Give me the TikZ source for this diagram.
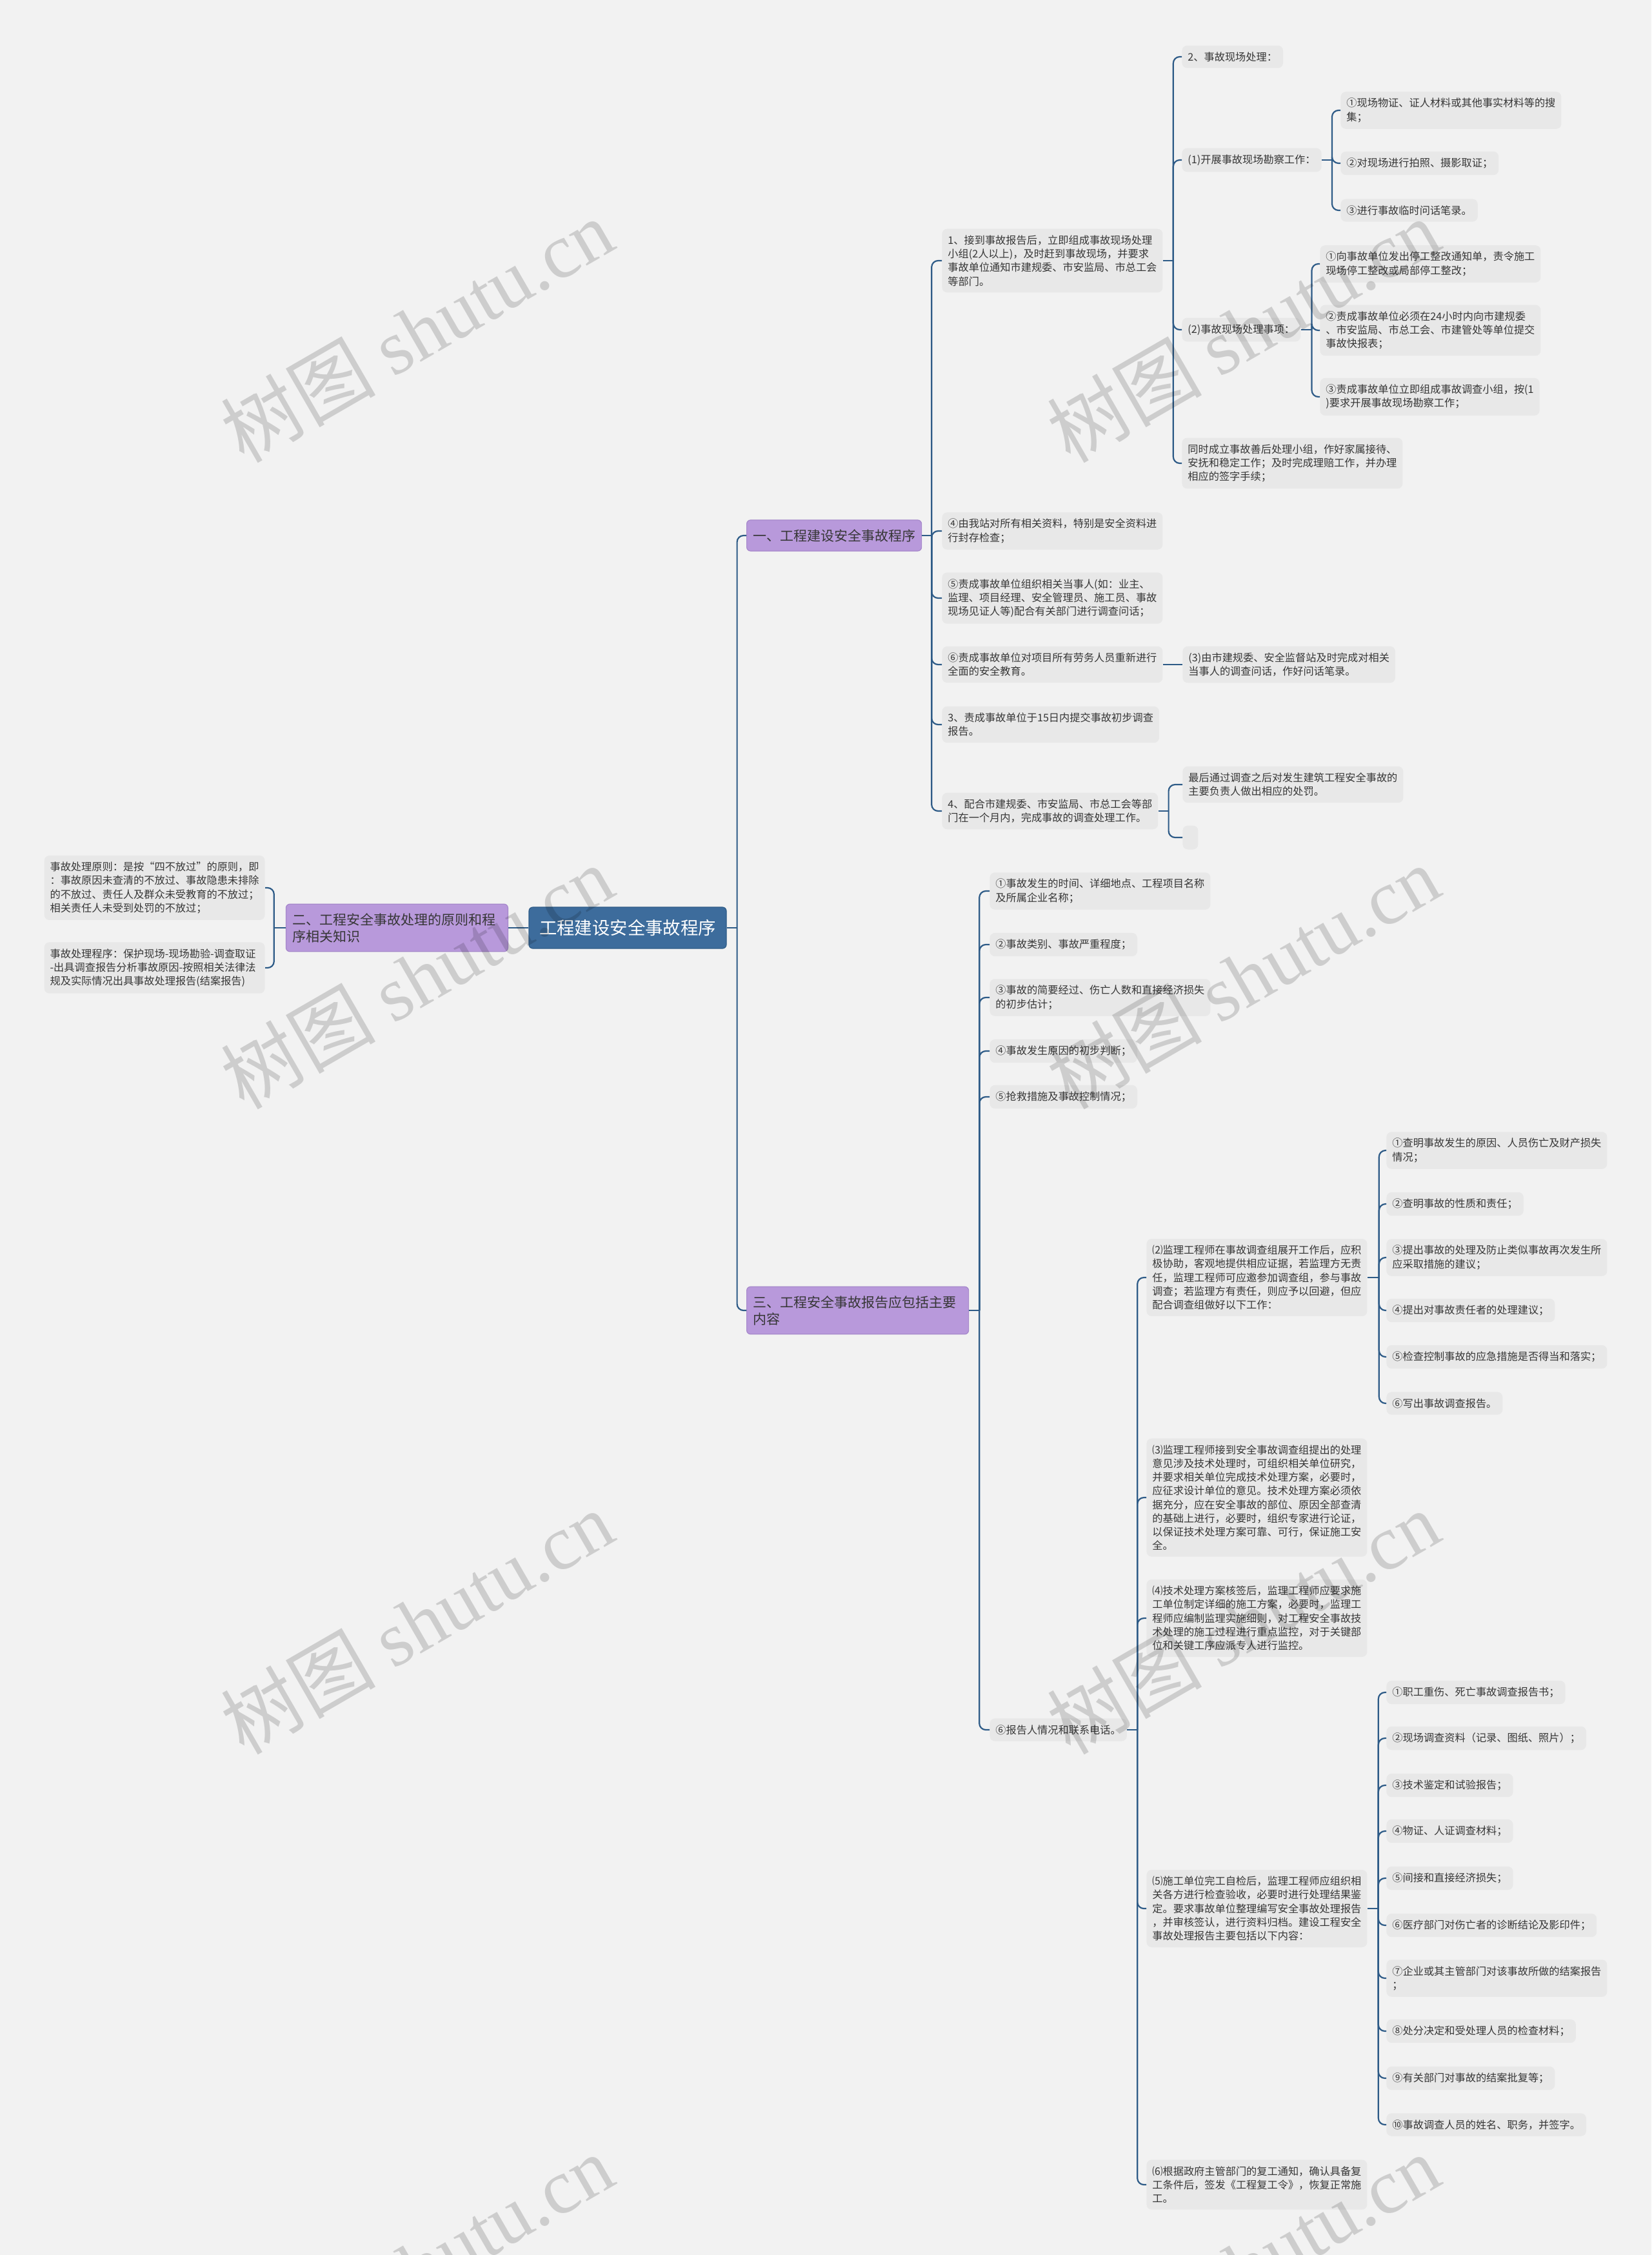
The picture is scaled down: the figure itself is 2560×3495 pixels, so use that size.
\documentclass[tikz,border=0pt]{standalone}
\usepackage{fontspec}
\setmainfont{Noto Sans CJK SC}
\newfontfamily\wmlatin{Liberation Serif}
\definecolor{bgcol}{HTML}{F2F2F2}
\definecolor{leafcol}{HTML}{E8E8E8}
\definecolor{linecol}{HTML}{2E5B87}
\definecolor{rootcol}{HTML}{3D6C9C}
\definecolor{rootline}{HTML}{2F5C88}
\definecolor{branchcol}{HTML}{B899DB}
\definecolor{branchline}{HTML}{A688CB}
\definecolor{txtcol}{HTML}{363636}

\begin{document}
\begin{tikzpicture}[x=0.5pt, y=-0.5pt,
  link/.style={draw=linecol, line width=1.1pt, rounded corners=5pt},
  rootbox/.style={fill=rootcol, draw=rootline, line width=0.6pt, rounded corners=3pt, text=white,
    font=\fontsize{13.7}{16}\selectfont, minimum width=153pt, minimum height=32pt, inner sep=0pt},
  branch/.style={fill=branchcol, draw=branchline, line width=0.6pt, rounded corners=3pt, text=txtcol,
    font=\fontsize{10.5}{13}\selectfont, align=left, inner xsep=5pt, inner ysep=7pt},
  leaf/.style={anchor=west, fill=leafcol, rounded corners=4pt, text=txtcol,
    font=\fontsize{8.1}{10.6}\selectfont, align=left, inner xsep=4.5pt, inner ysep=5pt},
  watermark/.style={rotate=30, text=black, opacity=0.15, font=\fontsize{60}{60}\selectfont}]

\useasboundingbox[fill=bgcol] (0,0) rectangle (2560,3495);

\node[rootbox] (root) at (973,1438) {工程建设安全事故程序};
\node[branch, anchor=west, minimum height=24pt, inner xsep=4.75pt] (b1) at (1157,830) {一、工程建设安全事故程序};
\node[branch, anchor=east, text width=162pt] (b2) at (788,1438) {二、工程安全事故处理的原则和程\\序相关知识};
\node[branch, anchor=west, text width=162pt] (b3) at (1157,2031) {三、工程安全事故报告应包括主要\\内容};

\node[leaf, anchor=east] (b2l1) at (411,1376) {事故处理原则：是按“四不放过”的原则，即\\：事故原因未查清的不放过、事故隐患未排除\\的不放过、责任人及群众未受教育的不放过；\\相关责任人未受到处罚的不放过；};
\node[leaf, anchor=east, text width=162pt] (b2l2) at (411,1500) {事故处理程序：保护现场-现场勘验-调查取证\\-出具调查报告分析事故原因-按照相关法律法\\规及实际情况出具事故处理报告(结案报告)};

\node[leaf] (s1) at (1460,404) {1、接到事故报告后，立即组成事故现场处理\\小组(2人以上)，及时赶到事故现场，并要求\\事故单位通知市建规委、市安监局、市总工会\\等部门。};
\node[leaf] (s4) at (1460,823) {④由我站对所有相关资料，特别是安全资料进\\行封存检查；};
\node[leaf] (s5) at (1460,927) {⑤责成事故单位组织相关当事人(如：业主、\\监理、项目经理、安全管理员、施工员、事故\\现场见证人等)配合有关部门进行调查问话；};
\node[leaf] (s6) at (1460,1030) {⑥责成事故单位对项目所有劳务人员重新进行\\全面的安全教育。};
\node[leaf] (s3) at (1460,1123) {3、责成事故单位于15日内提交事故初步调查\\报告。};
\node[leaf] (s7) at (1460,1257) {4、配合市建规委、市安监局、市总工会等部\\门在一个月内，完成事故的调查处理工作。};

\node[leaf] (s1a) at (1832,88) {2、事故现场处理：};
\node[leaf] (s1b) at (1832,248) {(1)开展事故现场勘察工作：};
\node[leaf] (s1c) at (1832,511) {(2)事故现场处理事项：};
\node[leaf] (s1d) at (1832,718) {同时成立事故善后处理小组，作好家属接待、\\安抚和稳定工作；及时完成理赔工作，并办理\\相应的签字手续；};

\node[leaf] (s1b1) at (2078,171) {①现场物证、证人材料或其他事实材料等的搜\\集；};
\node[leaf] (s1b2) at (2078,253) {②对现场进行拍照、摄影取证；};
\node[leaf] (s1b3) at (2078,326) {③进行事故临时问话笔录。};

\node[leaf] (s1c1) at (2046,409) {①向事故单位发出停工整改通知单，责令施工\\现场停工整改或局部停工整改；};
\node[leaf] (s1c2) at (2046,512) {②责成事故单位必须在24小时内向市建规委\\、市安监局、市总工会、市建管处等单位提交\\事故快报表；};
\node[leaf] (s1c3) at (2046,615) {③责成事故单位立即组成事故调查小组，按(1\\)要求开展事故现场勘察工作；};

\node[leaf] (s6a) at (1833,1030) {(3)由市建规委、安全监督站及时完成对相关\\当事人的调查问话，作好问话笔录。};
\node[leaf] (s7a) at (1833,1216) {最后通过调查之后对发生建筑工程安全事故的\\主要负责人做出相应的处罚。};
\node[leaf, minimum width=12pt, minimum height=18.5pt, inner sep=0pt] (s7b) at (1833,1298) {};

\node[leaf] (r1) at (1534,1381) {①事故发生的时间、详细地点、工程项目名称\\及所属企业名称；};
\node[leaf] (r2) at (1534,1464) {②事故类别、事故严重程度；};
\node[leaf] (r3) at (1534,1546) {③事故的简要经过、伤亡人数和直接经济损失\\的初步估计；};
\node[leaf] (r4) at (1534,1629) {④事故发生原因的初步判断；};
\node[leaf] (r5) at (1534,1700) {⑤抢救措施及事故控制情况；};
\node[leaf] (r6) at (1534,2681) {⑥报告人情况和联系电话。};

\node[leaf] (p2) at (1777,1980) {⑵监理工程师在事故调查组展开工作后，应积\\极协助，客观地提供相应证据，若监理方无责\\任，监理工程师可应邀参加调查组，参与事故\\调查；若监理方有责任，则应予以回避，但应\\配合调查组做好以下工作：};
\node[leaf] (p3) at (1777,2321) {⑶监理工程师接到安全事故调查组提出的处理\\意见涉及技术处理时，可组织相关单位研究，\\并要求相关单位完成技术处理方案，必要时，\\应征求设计单位的意见。技术处理方案必须依\\据充分，应在安全事故的部位、原因全部查清\\的基础上进行，必要时，组织专家进行论证，\\以保证技术处理方案可靠、可行，保证施工安\\全。};
\node[leaf] (p4) at (1777,2508) {⑷技术处理方案核签后，监理工程师应要求施\\工单位制定详细的施工方案，必要时，监理工\\程师应编制监理实施细则，对工程安全事故技\\术处理的施工过程进行重点监控，对于关键部\\位和关键工序应派专人进行监控。};
\node[leaf] (p5) at (1777,2958) {⑸施工单位完工自检后，监理工程师应组织相\\关各方进行检查验收，必要时进行处理结果鉴\\定。要求事故单位整理编写安全事故处理报告\\，并审核签认，进行资料归档。建设工程安全\\事故处理报告主要包括以下内容：};
\node[leaf] (p6) at (1777,3386) {⑹根据政府主管部门的复工通知，确认具备复\\工条件后，签发《工程复工令》，恢复正常施\\工。};

\node[leaf] (p2a) at (2149,1783) {①查明事故发生的原因、人员伤亡及财产损失\\情况；};
\node[leaf] (p2b) at (2149,1866) {②查明事故的性质和责任；};
\node[leaf] (p2c) at (2149,1949) {③提出事故的处理及防止类似事故再次发生所\\应采取措施的建议；};
\node[leaf] (p2d) at (2149,2031) {④提出对事故责任者的处理建议；};
\node[leaf] (p2e) at (2149,2103) {⑤检查控制事故的应急措施是否得当和落实；};
\node[leaf] (p2f) at (2149,2175) {⑥写出事故调查报告。};

\node[leaf] (p5a) at (2149,2623) {①职工重伤、死亡事故调查报告书；};
\node[leaf] (p5b) at (2149,2694) {②现场调查资料（记录、图纸、照片）；};
\node[leaf] (p5c) at (2149,2767) {③技术鉴定和试验报告；};
\node[leaf] (p5d) at (2149,2838) {④物证、人证调查材料；};
\node[leaf] (p5e) at (2149,2911) {⑤间接和直接经济损失；};
\node[leaf] (p5f) at (2149,2984) {⑥医疗部门对伤亡者的诊断结论及影印件；};
\node[leaf] (p5g) at (2149,3066) {⑦企业或其主管部门对该事故所做的结案报告\\；};
\node[leaf] (p5h) at (2149,3148) {⑧处分决定和受处理人员的检查材料；};
\node[leaf] (p5i) at (2149,3221) {⑨有关部门对事故的结案批复等；};
\node[leaf] (p5j) at (2149,3293) {⑩事故调查人员的姓名、职务，并签字。};

\draw[link] (root.west) -- (b2.east);
\draw[link] (b2.west) -- ++(-18,0) coordinate (j2);
\foreach \c in {b2l1,b2l2} \draw[link] (j2) |- (\c.east);
\draw[link] (root.east) -- ++(16,0) coordinate (j0);
\foreach \c in {b1,b3} \draw[link] (j0) |- (\c.west);
\draw[link] (b1.east) -- ++(15,0) coordinate (j1);
\foreach \c in {s1,s4,s5,s6,s3,s7} \draw[link] (j1) |- (\c.west);
\draw[link] (s1.east) -- ++(16,0) coordinate (js1);
\foreach \c in {s1a,s1b,s1c,s1d} \draw[link] (js1) |- (\c.west);
\draw[link] (s1b.east) -- ++(16,0) coordinate (js1b);
\foreach \c in {s1b1,s1b2,s1b3} \draw[link] (js1b) |- (\c.west);
\draw[link] (s1c.east) -- ++(17,0) coordinate (js1c);
\foreach \c in {s1c1,s1c2,s1c3} \draw[link] (js1c) |- (\c.west);
\draw[link] (s6.east) -- (s6a.west);
\draw[link] (s7.east) -- ++(16,0) coordinate (js7);
\foreach \c in {s7a,s7b} \draw[link] (js7) |- (\c.west);
\draw[link] (b3.east) -- ++(16,0) coordinate (j3);
\foreach \c in {r1,r2,r3,r4,r5,r6} \draw[link] (j3) |- (\c.west);
\draw[link] (r6.east) -- ++(16,0) coordinate (jr6);
\foreach \c in {p2,p3,p4,p5,p6} \draw[link] (jr6) |- (\c.west);
\draw[link] (p2.east) -- ++(18,0) coordinate (jp2);
\foreach \c in {p2a,p2b,p2c,p2d,p2e,p2f} \draw[link] (jp2) |- (\c.west);
\draw[link] (p5.east) -- ++(17,0) coordinate (jp5);
\foreach \c in {p5a,p5b,p5c,p5d,p5e,p5f,p5g,p5h,p5i,p5j} \draw[link] (jp5) |- (\c.west);

\begin{scope}
\clip (0,0) rectangle (2560,3495);
\foreach \wy in {512,1514,2514,3512}
  \foreach \wx in {646,1927}
    \node[watermark] at (\wx,\wy) {树图 {\wmlatin shutu.cn}};
\end{scope}
\end{tikzpicture}
\end{document}
